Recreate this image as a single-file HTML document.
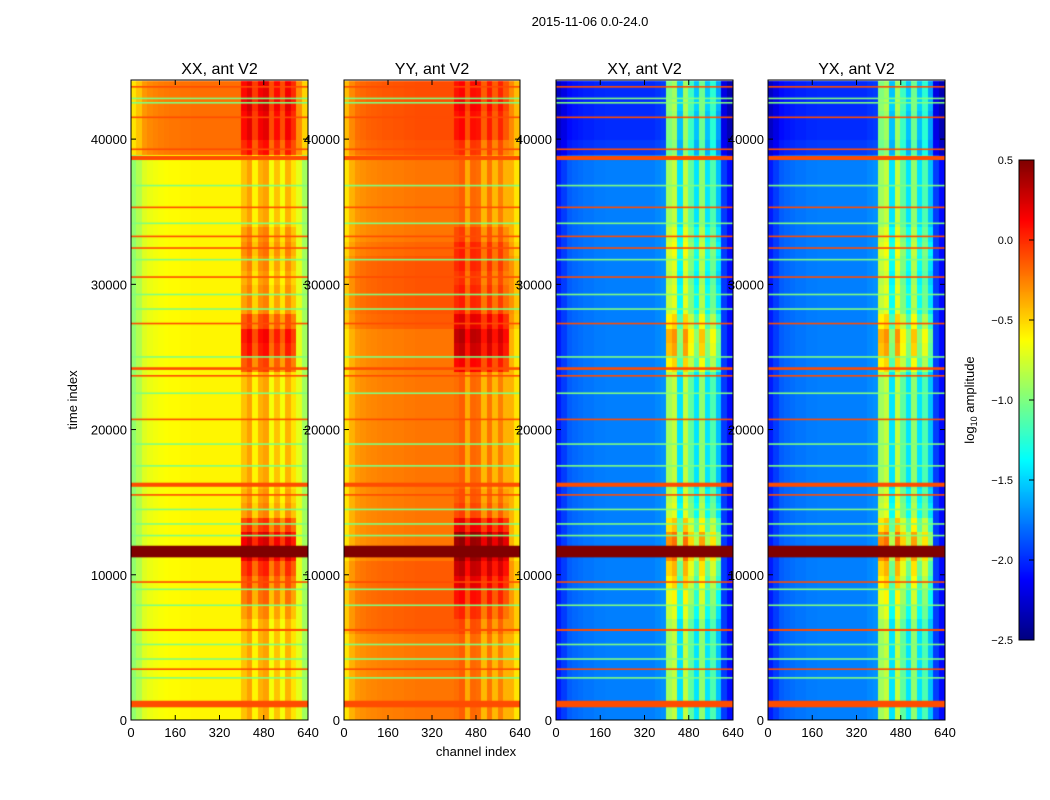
<!DOCTYPE html>
<html><head><meta charset="utf-8"><style>
body{margin:0;background:#fff;width:1050px;height:800px;overflow:hidden;position:relative;font-family:"Liberation Sans",sans-serif}
canvas{position:absolute}
svg{position:absolute;left:0;top:0}
</style></head><body>
<div>
<canvas id="c0" width="177" height="640" style="left:131px;top:80px"></canvas>
<canvas id="c1" width="176" height="640" style="left:344px;top:80px"></canvas>
<canvas id="c2" width="177" height="640" style="left:556px;top:80px"></canvas>
<canvas id="c3" width="177" height="640" style="left:768px;top:80px"></canvas>
<canvas id="cb" width="15" height="480" style="left:1019px;top:160px"></canvas>
<svg id="ov" width="1050" height="800"></svg>
</div>
<script>
// ---- data ----
const channelBins = 32; // 20 channels each, 0..640
const timeBins = 44;    // 1000 samples each
const colXX = [-0.95,-0.85,-0.72,-0.68,-0.66,-0.64,-0.63,-0.62,-0.62,-0.61,-0.61,-0.6,-0.6,-0.6,-0.6,-0.6,-0.6,-0.6,-0.6,-0.6,-0.45,-0.35,-0.6,-0.4,-0.35,-0.65,-0.45,-0.65,-0.4,-0.55,-0.7,-0.9];
const colYY = [-0.55,-0.4,-0.32,-0.3,-0.28,-0.27,-0.26,-0.25,-0.25,-0.24,-0.24,-0.23,-0.23,-0.22,-0.22,-0.22,-0.22,-0.22,-0.22,-0.22,-0.2,-0.15,-0.38,-0.18,-0.2,-0.42,-0.22,-0.42,-0.25,-0.4,-0.4,-0.55];
const colXY = [-2.05,-1.95,-1.85,-1.82,-1.8,-1.78,-1.78,-1.76,-1.76,-1.75,-1.75,-1.75,-1.75,-1.75,-1.75,-1.75,-1.75,-1.75,-1.72,-1.7,-0.9,-0.8,-1.45,-0.8,-1.1,-1.45,-0.95,-1.45,-1.15,-1.55,-1.95,-2.1];
const colYX = colXY;
const rowXX = [0,0,0,0,0,0,0,0,0,0,0,0,0,0,0,0,0,0,0,0,0,0,0,0,0,0,0,0,0,0,0,0,0,0,0,0,0,0,0,0.4,0.4,0.4,0.4,0.4];
const rowYY = [0,0,0,0,0,0,0.08,0.08,0.08,0.08,0.08,0,0,0,0,0,0,0,0,0,0,0,0,0,0,0,0,0.08,0.1,0.1,0.1,0.1,0.05,0,0,0,0,0,0,0.1,0.12,0.12,0.12,0.12];
const rowXY = [0,0,0,0,0,0,0,0,0,0,0,0,0,0,0,0,0,0,0,0,0,0,0,0,0,0,0,0,0,0,0,0,0,0,0,0,0,0,0,-0.2,-0.25,-0.25,-0.25,-0.25];
const rfiRow = [0,0,0,0,0,0,0,0.1,0.2,0.3,0.4,0.6,0.6,0.35,0.1,0.05,0,0,0,0,0,0,0,0,0.3,0.45,0.5,0.3,0.1,0.1,0.05,0.1,0.15,0.1,0,0,0,0,0,0.05,0.15,0.15,0.2,0.15];
const lineTimes = [1100,3500,6200,9500,11600,15500,16200,20700,23700,24200,27300,30500,32500,33300,35300,38700,39300,41500,43600,2900,4200,5200,7900,9000,12700,13500,14500,17500,19000,22500,25000,28300,29300,31700,34200,36800,42500,42800];
const lineVals  = [-0.1,-0.1,-0.1,-0.1,0.5,-0.1,-0.1,-0.1,-0.1,-0.1,-0.1,-0.1,-0.1,-0.1,-0.1,-0.1,-0.1,-0.1,-0.1,-1.0,-1.0,-1.0,-1.0,-1.0,-1.0,-1.0,-1.0,-1.0,-1.0,-1.0,-1.0,-1.0,-1.0,-1.0,-1.0,-1.0,-1.0,-1.0];
const lineWidths= [450,110,140,110,800,110,280,110,110,180,110,110,110,110,110,280,110,110,110,110,110,110,110,110,110,110,110,110,110,110,110,110,110,110,110,110,110,110];
const xTicks = [0,160,320,480,640];
const yTicks = [0,10000,20000,30000,40000];
const cbTicks = [0.5,0.0,-0.5,-1.0,-1.5,-2.0,-2.5];
const titles = ["XX, ant V2","YY, ant V2","XY, ant V2","YX, ant V2"];
// ---- scales ----
const TMAX=44070, VMIN=-2.5, VMAX=0.5;
function jet(v){let t=(v-VMIN)/(VMAX-VMIN);t=Math.max(0,Math.min(1,t));
 const r=Math.max(0,Math.min(1,1.5-Math.abs(4*t-3))),g=Math.max(0,Math.min(1,1.5-Math.abs(4*t-2))),b=Math.max(0,Math.min(1,1.5-Math.abs(4*t-1)));
 return `rgb(${r*255|0},${g*255|0},${b*255|0})`;}
const panels=[{id:'c0',col:colXX,row:rowXX,x:131,w:177},{id:'c1',col:colYY,row:rowYY,x:344,w:176},{id:'c2',col:colXY,row:rowXY,x:556,w:177},{id:'c3',col:colYX,row:rowXY,x:768,w:177}];
panels.forEach(p=>{
 const ctx=document.getElementById(p.id).getContext('2d');
 const sx=ch=>ch/640*p.w, sy=t=>640-t/TMAX*640;
 for(let r=0;r<timeBins;r++)for(let c=0;c<channelBins;c++){
  const rfi=c>=20&&c<30;
  const v=p.col[c]+p.row[r]+(rfi?rfiRow[r]:0);
  ctx.fillStyle=jet(v);
  const x0=sx(c*20),x1=sx((c+1)*20),y0=sy((r+1)*1000),y1=sy(r*1000);
  ctx.fillRect(Math.floor(x0),Math.floor(y0),Math.ceil(x1-x0)+1,Math.ceil(y1-y0)+1);
 }
 lineTimes.forEach((t,i)=>{ctx.fillStyle=jet(lineVals[i]);const h=Math.max(1.2,lineWidths[i]/TMAX*640);ctx.fillRect(0,sy(t)-h/2,p.w,h);});
});
const cb=document.getElementById('cb').getContext('2d');
for(let i=0;i<480;i++){cb.fillStyle=jet(VMAX-(i+0.5)/480*(VMAX-VMIN));cb.fillRect(0,i,15,1);}
// ---- overlay ----
const ov=document.getElementById('ov');const NS='http://www.w3.org/2000/svg';
function mk(tag,at,txt){const e=document.createElementNS(NS,tag);for(const k in at)e.setAttribute(k,at[k]);if(txt!=null)e.textContent=txt;ov.appendChild(e);return e;}
let e=mk('text',{x:590,y:26,'text-anchor':'middle','font-size':13},'2015-11-06 0.0-24.0');


panels.forEach((p,i)=>{
 const sx=ch=>p.x+ch/640*p.w, sy=t=>720-t/TMAX*640;
 let f=mk('rect',{x:p.x,y:80,width:p.w,height:640,fill:'none',stroke:'#000','stroke-width':1});
 
 
 let tt=mk('text',{x:p.x+p.w/2,y:74,'text-anchor':'middle','font-size':16},titles[i]);
 
 
 xTicks.forEach(v=>{const x=sx(v);mk('line',{x1:x,x2:x,y1:720,y2:715,stroke:'#000'});mk('line',{x1:x,x2:x,y1:80,y2:85,stroke:'#000'});
  const l=mk('text',{x:x,y:737,'text-anchor':'middle','font-size':13},String(v));
  
  });
 yTicks.forEach(v=>{const y=sy(v);mk('line',{x1:p.x,x2:p.x+5,y1:y,y2:y,stroke:'#000'});mk('line',{x1:p.x+p.w,x2:p.x+p.w-5,y1:y,y2:y,stroke:'#000'});
  const l=mk('text',{x:p.x-4,y:y+5,'text-anchor':'end','font-size':13},String(v));
  
  });
});
e=mk('text',{x:77,y:400,'text-anchor':'middle','font-size':13,transform:'rotate(-90 77 400)'},'time index');


e=mk('text',{x:476,y:756,'text-anchor':'middle','font-size':13},'channel index');


mk('rect',{x:1019,y:160,width:15,height:480,fill:'none',stroke:'#000'});
cbTicks.forEach(v=>{const y=160+(VMAX-v)/(VMAX-VMIN)*480;mk('line',{x1:1029,x2:1034,y1:y,y2:y,stroke:'#000'});
 const l=mk('text',{x:1013,y:y+4,'text-anchor':'end','font-size':11},v.toFixed(1).replace('-','\u2212'));
 
 });
e=mk('text',{x:974,y:400,'text-anchor':'middle','font-size':13,transform:'rotate(-90 974 400)'});
e.innerHTML='log<tspan font-size="9" dy="3">10</tspan><tspan dy="-3"> amplitude</tspan>';


</script>
</body></html>
